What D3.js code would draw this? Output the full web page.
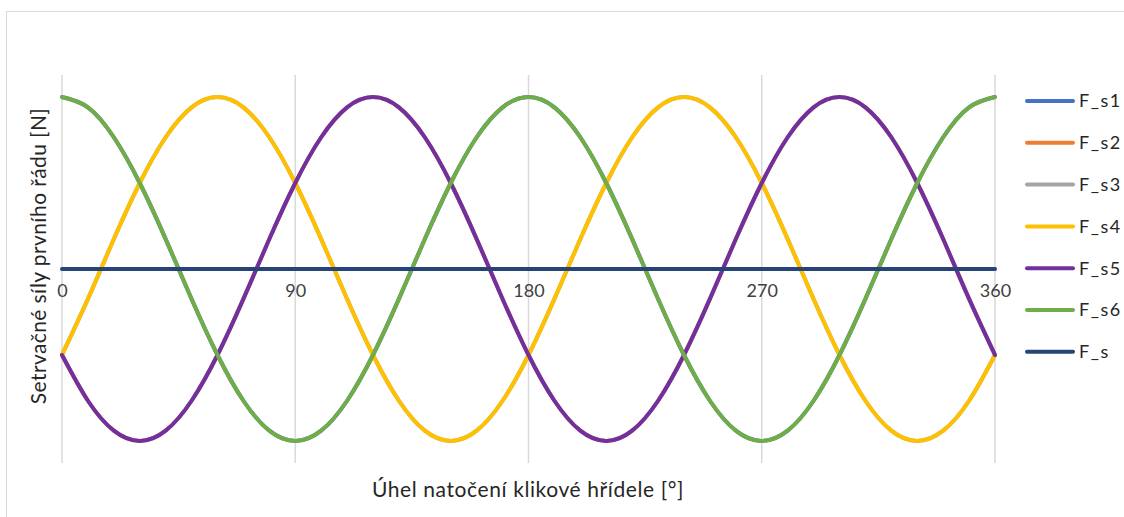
<!DOCTYPE html>
<html>
<head>
<meta charset="utf-8">
<script src="https://cdn.jsdelivr.net/npm/d3@7"></script>
<style>
  html, body { margin: 0; padding: 0; background: #fff; }
  svg { display: block; font-family: Lato, "Open Sans", sans-serif; }
</style>
</head>
<body>
<svg id="chart" width="1124" height="517"></svg>
<script>
// Crank angle samples [°]
const angles = [0, 10, 20, 30, 40, 50, 60, 70, 80, 90, 100, 110, 120, 130, 140, 150, 160, 170, 180,
                190, 200, 210, 220, 230, 240, 250, 260, 270, 280, 290, 300, 310, 320, 330, 340, 350, 360];

// Inertia forces per cylinder (relative units)
const fs1 = [1, 0.94, 0.766, 0.5, 0.174, -0.174, -0.5, -0.766, -0.94, -1, -0.94, -0.766, -0.5, -0.174, 0.174, 0.5, 0.766, 0.94, 1,
             0.94, 0.766, 0.5, 0.174, -0.174, -0.5, -0.766, -0.94, -1, -0.94, -0.766, -0.5, -0.174, 0.174, 0.5, 0.766, 0.94, 1];
const fs2 = [-0.5, -0.766, -0.94, -1, -0.94, -0.766, -0.5, -0.174, 0.174, 0.5, 0.766, 0.94, 1, 0.94, 0.766, 0.5, 0.174, -0.174, -0.5,
             -0.766, -0.94, -1, -0.94, -0.766, -0.5, -0.174, 0.174, 0.5, 0.766, 0.94, 1, 0.94, 0.766, 0.5, 0.174, -0.174, -0.5];
const fs3 = [-0.5, -0.174, 0.174, 0.5, 0.766, 0.94, 1, 0.94, 0.766, 0.5, 0.174, -0.174, -0.5, -0.766, -0.94, -1, -0.94, -0.766, -0.5,
             -0.174, 0.174, 0.5, 0.766, 0.94, 1, 0.94, 0.766, 0.5, 0.174, -0.174, -0.5, -0.766, -0.94, -1, -0.94, -0.766, -0.5];
const fs4 = [-0.5, -0.174, 0.174, 0.5, 0.766, 0.94, 1, 0.94, 0.766, 0.5, 0.174, -0.174, -0.5, -0.766, -0.94, -1, -0.94, -0.766, -0.5,
             -0.174, 0.174, 0.5, 0.766, 0.94, 1, 0.94, 0.766, 0.5, 0.174, -0.174, -0.5, -0.766, -0.94, -1, -0.94, -0.766, -0.5];
const fs5 = [-0.5, -0.766, -0.94, -1, -0.94, -0.766, -0.5, -0.174, 0.174, 0.5, 0.766, 0.94, 1, 0.94, 0.766, 0.5, 0.174, -0.174, -0.5,
             -0.766, -0.94, -1, -0.94, -0.766, -0.5, -0.174, 0.174, 0.5, 0.766, 0.94, 1, 0.94, 0.766, 0.5, 0.174, -0.174, -0.5];
const fs6 = [1, 0.94, 0.766, 0.5, 0.174, -0.174, -0.5, -0.766, -0.94, -1, -0.94, -0.766, -0.5, -0.174, 0.174, 0.5, 0.766, 0.94, 1,
             0.94, 0.766, 0.5, 0.174, -0.174, -0.5, -0.766, -0.94, -1, -0.94, -0.766, -0.5, -0.174, 0.174, 0.5, 0.766, 0.94, 1];
// Resultant force
const fsTotal = [0, 0, 0, 0, 0, 0, 0, 0, 0, 0, 0, 0, 0, 0, 0, 0, 0, 0, 0,
                 0, 0, 0, 0, 0, 0, 0, 0, 0, 0, 0, 0, 0, 0, 0, 0, 0, 0];

const seriesNames = ["F_s1", "F_s2", "F_s3", "F_s4", "F_s5", "F_s6", "F_s"];
const seriesValues = [fs1, fs2, fs3, fs4, fs5, fs6, fsTotal];
const seriesColors = ["#4472C4", "#ED7D31", "#A5A5A5", "#FFC000", "#7030A0", "#70AD47", "#264478"];
const xTicks = [0, 90, 180, 270, 360];

const xTitle = "Úhel natočení klikové hřídele [°]";
const yTitle = "Setrvačné síly prvního řádu [N]";

const svg = d3.select("#chart");

// Chart frame
svg.append("rect")
  .attr("x", 6.5).attr("y", 11.5)
  .attr("width", 1130).attr("height", 520)
  .attr("fill", "none").attr("stroke", "#d9d9d9").attr("stroke-width", 1);

const plot = { left: 62, right: 995, top: 75, bottom: 463 };

const x = d3.scaleLinear().domain([0, 360]).range([plot.left, plot.right]);
const y = d3.scaleLinear().domain([-1.128, 1.128]).range([plot.bottom, plot.top]);

// Vertical gridlines
svg.append("g")
  .selectAll("line")
  .data(xTicks)
  .join("line")
  .attr("x1", d => x(d)).attr("x2", d => x(d))
  .attr("y1", plot.top).attr("y2", plot.bottom)
  .attr("stroke", "#d9d9d9").attr("stroke-width", 1.5);

// Category axis crossing at zero
const xAxis = d3.axisBottom(x).tickValues(xTicks).tickSize(0).tickPadding(15);
const gx = svg.append("g")
  .attr("transform", `translate(0,${y(0)})`)
  .call(xAxis);
gx.select(".domain").attr("stroke", "#bfbfbf").attr("stroke-width", 1.5);
gx.selectAll("text")
  .attr("font-family", "Lato, 'Open Sans', sans-serif")
  .attr("font-size", 18)
  .attr("fill", "#404040");

// Series lines, smoothed through the samples
const line = d3.line()
  .x((d, i) => x(angles[i]))
  .y(d => y(d))
  .curve(d3.curveNatural);

svg.append("g")
  .selectAll("path")
  .data(seriesValues)
  .join("path")
  .attr("d", d => line(d))
  .attr("fill", "none")
  .attr("stroke", (d, i) => seriesColors[i])
  .attr("stroke-width", 4)
  .attr("stroke-linecap", "round")
  .attr("stroke-linejoin", "round");

// Axis titles
svg.append("text")
  .attr("x", 528)
  .attr("y", 497)
  .attr("text-anchor", "middle")
  .attr("font-size", 21)
  .attr("letter-spacing", 0.6)
  .attr("fill", "#262626")
  .text(xTitle);

svg.append("text")
  .attr("transform", `translate(46,256) rotate(-90)`)
  .attr("text-anchor", "middle")
  .attr("font-size", 21)
  .attr("letter-spacing", 0.4)
  .attr("fill", "#262626")
  .text(yTitle);

// Legend
const legend = svg.append("g")
  .selectAll("g")
  .data(seriesNames)
  .join("g")
  .attr("transform", (d, i) => `translate(1027,${101 + i * 41.8})`);

legend.append("line")
  .attr("x1", 0).attr("x2", 46)
  .attr("stroke", (d, i) => seriesColors[i])
  .attr("stroke-width", 4)
  .attr("stroke-linecap", "round");

legend.append("text")
  .attr("x", 52)
  .attr("dy", "0.35em")
  .attr("font-size", 18)
  .attr("letter-spacing", 1.5)
  .attr("fill", "#262626")
  .text(d => d);
</script>
</body>
</html>
